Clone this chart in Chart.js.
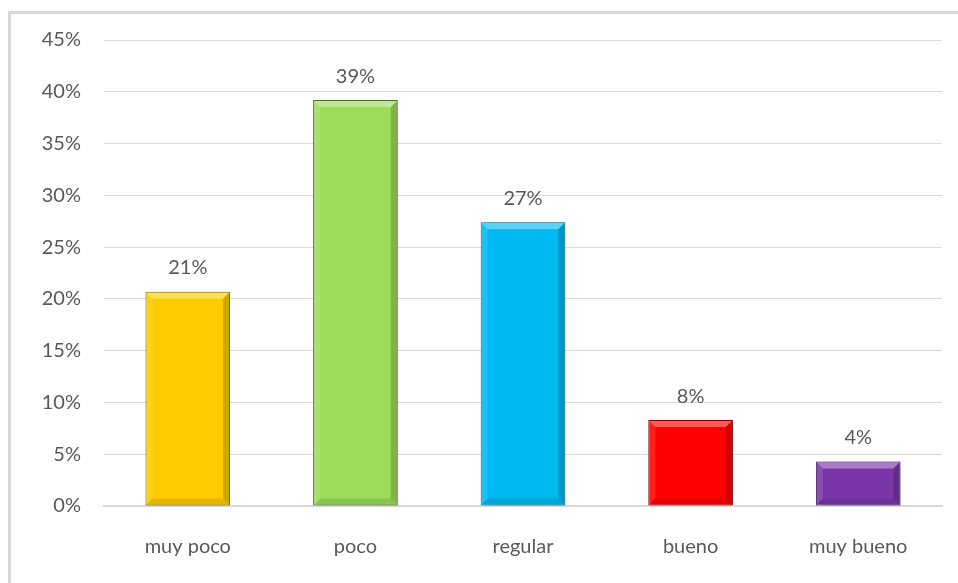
<!DOCTYPE html>
<html>
<head>
<meta charset="utf-8">
<script src="https://cdn.jsdelivr.net/npm/chart.js@4"></script>
<style>
    html, body { margin: 0; padding: 0; background: #fff; overflow: hidden; }
    #marco {
        position: absolute; left: 8px; top: 11px;
        width: 1000px; height: 640px;
        border: 3px solid #d9d9d9; box-sizing: border-box;
    }
    #contenedor { position: absolute; left: 0; top: 0; width: 958px; height: 583px; }
</style>
</head>
<body>
<div id="marco"></div>
<div id="contenedor"><canvas id="grafico"></canvas></div>
<script>
const categorias = ["muy poco", "poco", "regular", "bueno", "muy bueno"];
const porcentajes = [20.7, 39.2, 27.4, 8.3, 4.3];
const colores = ["#fecb00", "#9bdc5a", "#00b9f1", "#fe0000", "#7a36a9"];
const bordes = ["#8a6d00", "#507a2c", "#00729a", "#9a0000", "#4a1f6a"];
const ticksY = [0, 5, 10, 15, 20, 25, 30, 35, 40, 45];

const FUENTE = "Lato, 'Open Sans', sans-serif";
const GRIS = "#595959";

// sombra y relieve de las barras
const relieve = {
    id: "relieve",
    beforeDatasetsDraw(chart) {
        const ctx = chart.ctx;
        ctx.save();
        ctx.shadowColor = "rgba(0,0,0,0.28)";
        ctx.shadowBlur = 7;
        ctx.shadowOffsetX = 3;
        ctx.shadowOffsetY = 1;
    },
    afterDatasetsDraw(chart) {
        const ctx = chart.ctx;
        ctx.restore();
        const meta = chart.getDatasetMeta(0);
        meta.data.forEach((bar, i) => {
            const x0 = bar.x - bar.width / 2, x1 = bar.x + bar.width / 2;
            const y0 = bar.y, y1 = bar.base;
            const b = 7;
            ctx.save();
            // franja clara arriba
            ctx.fillStyle = "rgba(255,255,255,0.35)";
            ctx.beginPath();
            ctx.moveTo(x0 + 1, y0 + 1); ctx.lineTo(x1 - 1, y0 + 1);
            ctx.lineTo(x1 - b, y0 + b); ctx.lineTo(x0 + b, y0 + b);
            ctx.closePath(); ctx.fill();
            // lado izquierdo
            ctx.fillStyle = "rgba(255,255,255,0.12)";
            ctx.beginPath();
            ctx.moveTo(x0 + 1, y0 + 1); ctx.lineTo(x0 + b, y0 + b);
            ctx.lineTo(x0 + b, y1 - b); ctx.lineTo(x0 + 1, y1 - 1);
            ctx.closePath(); ctx.fill();
            // lado derecho
            ctx.fillStyle = "rgba(0,0,0,0.18)";
            ctx.beginPath();
            ctx.moveTo(x1 - 1, y0 + 1); ctx.lineTo(x1 - b, y0 + b);
            ctx.lineTo(x1 - b, y1 - b); ctx.lineTo(x1 - 1, y1 - 1);
            ctx.closePath(); ctx.fill();
            // franja oscura abajo
            ctx.fillStyle = "rgba(0,0,0,0.10)";
            ctx.beginPath();
            ctx.moveTo(x0 + 1, y1 - 1); ctx.lineTo(x1 - 1, y1 - 1);
            ctx.lineTo(x1 - b, y1 - b); ctx.lineTo(x0 + b, y1 - b);
            ctx.closePath(); ctx.fill();
            ctx.restore();
        });
        // etiquetas de valor
        ctx.save();
        ctx.font = "20px " + FUENTE;
        ctx.fillStyle = GRIS;
        ctx.textAlign = "center";
        ctx.textBaseline = "middle";
        meta.data.forEach((bar, i) => {
            ctx.fillText(Math.round(porcentajes[i]) + "%", bar.x, bar.y - 24);
        });
        ctx.restore();
    }
};

new Chart(document.getElementById("grafico"), {
    type: "bar",
    data: {
        labels: categorias,
        datasets: [{
            data: porcentajes,
            backgroundColor: colores,
            borderColor: bordes,
            borderWidth: 1,
            borderSkipped: false,
            barPercentage: 0.505,
            categoryPercentage: 1
        }]
    },
    options: {
        responsive: true,
        maintainAspectRatio: false,
        animation: false,
        layout: { padding: { top: 40, right: 16, bottom: 0, left: 0 } },
        plugins: { legend: { display: false }, tooltip: { enabled: false } },
        scales: {
            x: {
                grid: { display: false, drawTicks: false },
                border: { color: "#d9d9d9", width: 2 },
                ticks: { color: GRIS, font: { family: FUENTE, size: 20 }, padding: 29 },
                afterFit: s => { s.height = 77; }
            },
            y: {
                min: 0,
                max: 45,
                afterBuildTicks: s => { s.ticks = ticksY.map(v => ({ value: v })); },
                grid: { color: "#d9d9d9", lineWidth: 1, drawTicks: false },
                border: { display: false },
                ticks: {
                    color: GRIS,
                    font: { family: FUENTE, size: 20 },
                    padding: 23,
                    callback: v => v + "%"
                },
                afterFit: s => { s.width = 104; }
            }
        }
    },
    plugins: [relieve]
});
</script>
</body>
</html>
